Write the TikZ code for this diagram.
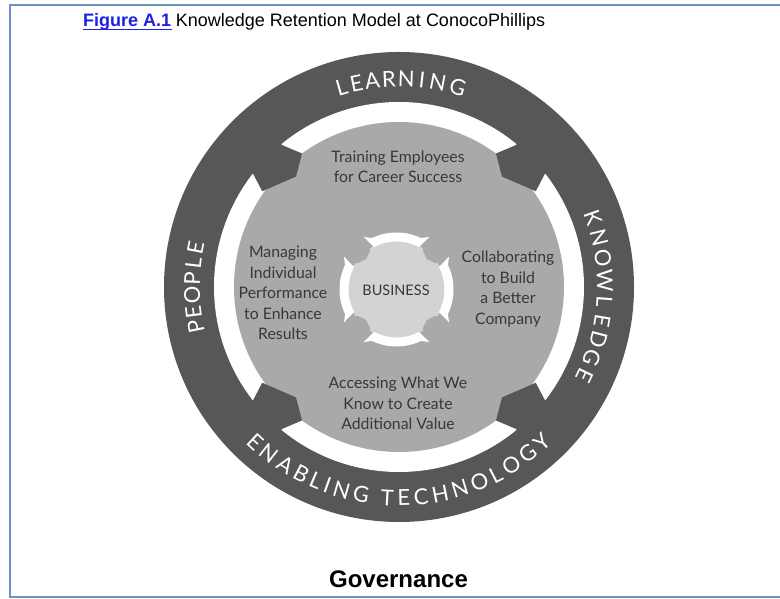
\documentclass[tikz,border=0pt]{standalone}
\usepackage{fontspec}
\setmainfont{Liberation Sans}
\newfontfamily\lato{Lato}
\definecolor{ringdark}{HTML}{575757}
\definecolor{diskgray}{HTML}{A9A9A9}
\definecolor{bizgray}{HTML}{D3D3D3}
\definecolor{textgray}{HTML}{383838}
\definecolor{framecol}{HTML}{6E92C8}
\definecolor{figblue}{HTML}{1E22E0}
\begin{document}
\begin{tikzpicture}[x=1pt,y=1pt,
  ringlbl/.style={text=white,font=\lato\fontsize{22}{22}\selectfont,inner sep=0pt,anchor=center},
  disklbl/.style={text=textgray,align=center,font=\lato\fontsize{15.8}{20.5}\selectfont,inner sep=0pt},
  bizarc/.style={white,line width=9pt}]
\useasboundingbox (0,0) rectangle (780,599);
\fill[white] (0,0) rectangle (780,599);
% page frame
\draw[framecol,line width=1.4pt] (781,594) -- (10,594) -- (10,2) -- (781,2);
% caption and footer
\node[anchor=base west,inner sep=0pt,font=\fontsize{18}{20}\selectfont] (cap) at (83,572)
  {\textcolor{figblue}{\textbf{Figure A.1}}\hspace{0.26em}Knowledge Retention Model at ConocoPhillips};
\draw[figblue,line width=0.8pt] (83,569.5) -- (171.5,569.5);
\node[anchor=base,inner sep=0pt,font=\bfseries\fontsize{24}{26}\selectfont] (gov) at (398.5,11.5) {Governance};

\coordinate (O) at (399,312);
\begin{scope}[shift={(O)}]
  % outer ring, white track and inner disk
  \fill[ringdark] (0,0) circle (235);
  \fill[white] (0,0) circle (185);
  \fill[diskgray] (0,0) circle (165);
  % arrowheads interrupting the white track
  \foreach \s/\m in {1/0,-1/180,-1/0,1/180}{
    \fill[ringdark] (\m+\s*129.5:190) -- (\m+\s*129.5:184) -- (\m+\s*126:165)
      -- (\m+\s*133:151) -- (\m+\s*145:167) -- (\m+\s*142:186) -- (\m+\s*142:190)
      arc[start angle=\m+\s*142, end angle=\m+\s*129.5, radius=190] -- cycle;
  }
  % ring labels
  \foreach \ch/\a [count=\i] in {L/106,E/101.8,A/97.4,R/92.8,N/88,I/83.6,N/79.2,G/73.6}
    \node[ringlbl,rotate=\a-90] (lrn\i) at (\a:208) {\ch};
  \foreach \ch/\a [count=\i] in {P/191.1,E/187.1,O/182.3,P/177.6,L/173.3,E/169.2}
    \node[ringlbl,rotate=\a-90] (ppl\i) at (\a:207) {\ch};
  \foreach \ch/\a [count=\i] in {K/19.5,N/13.8,O/8.1,W/1.7,L/-4.2,E/-9.4,D/-14.7,G/-20.1,E/-25.6}
    \node[ringlbl,rotate=\a-90] (knw\i) at (\a:206) {\ch};
  \foreach \ch/\a [count=\i] in {E/227.2,N/232.1,A/237.4,B/242.4,L/246.8,I/250.2,N/254.2,G/259.7,
                      T/266.8,E/271.3,C/276.0,H/281.3,N/286.8,O/292.4,L/297.3,O/302.2,G/307.8,Y/312.8}
    \node[ringlbl,rotate=\a+90] (tec\i) at (\a:211) {\ch};
\end{scope}

% central business emblem
\coordinate (B) at (396.5,309.5);
\begin{scope}[shift={(B)}]
  \fill[bizgray] (0,0) circle (49);
  \foreach \a in {45,135,225,315}
    \fill[diskgray] (\a-15:60) -- (\a-11:47) -- (\a:43) -- (\a+11:47) -- (\a+15:60) -- cycle;
  \foreach \a in {0,90,180,270}{
    \draw[bizarc] (\a-28:52.5) arc[start angle=\a-28, end angle=\a+28, radius=52.5];
    \fill[white] (\a+24:56) -- (\a+32:62) -- (\a+28:48) -- cycle;
    \fill[white] (\a-24:56) -- (\a-32:62) -- (\a-28:48) -- cycle;
  }
\end{scope}

% texts inside the disk
\node[disklbl] (train) at (398,432) {Training Employees\\for Career Success};
\node[disklbl] (manage) at (283,306) {Managing\\Individual\\Performance\\to Enhance\\Results};
\node[disklbl] (collab) at (508,310) {Collaborating\\to Build\\a Better\\Company};
\node[disklbl] (access) at (398,195.5) {Accessing What We\\Know to Create\\Additional Value};
\node[text=textgray,inner sep=0pt,font=\lato\fontsize{14.5}{16}\selectfont] (biz) at (396,309) {BUSINESS};
\end{tikzpicture}
\end{document}
